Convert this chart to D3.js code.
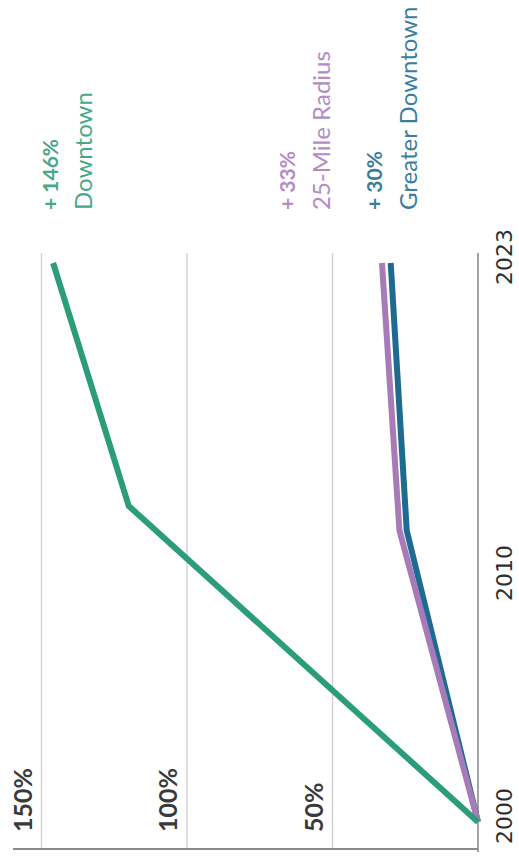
<!DOCTYPE html>
<html>
<head>
<meta charset="utf-8">
<script src="https://cdn.jsdelivr.net/npm/d3@7"></script>
<style>
  html, body { margin: 0; padding: 0; background: #fff; }
  svg { display: block; }
</style>
</head>
<body>
<svg id="chart" width="519" height="858"></svg>
<script>
// Growth since 2000, by area
const yearTicks = [2000, 2010, 2023];
const percentTicks = [50, 100, 150];

const downtownYears = [2000, 2013, 2023];
const downtownValues = [0, 120, 146];

const radiusYears = [2000, 2012, 2023];
const radiusValues = [0, 27, 33];

const greaterYears = [2000, 2012, 2023];
const greaterValues = [0, 24.5, 30];

const seriesNames = ["Downtown", "25-Mile Radius", "Greater Downtown"];
const seriesChange = ["+ 146%", "+ 33%", "+ 30%"];

const W = 519, H = 858;
const svg = d3.select("#chart");

// The chart is laid out in a landscape frame (u across, v down) and turned a quarter turn.
const g = svg.append("g").attr("transform", `translate(0,${H}) rotate(-90)`);

const x = d3.scaleLinear().domain([2000, 2023]).range([36, 595]);
const y = d3.scaleLinear().domain([0, 150]).range([478, 41.5]);

const gridTop = 605, gridBottom = 9;

// Gridlines
g.append("g").selectAll("line").data(percentTicks).join("line")
  .attr("x1", gridBottom).attr("x2", gridTop)
  .attr("y1", d => y(d)).attr("y2", d => y(d))
  .attr("stroke", "#cfcfcf").attr("stroke-width", 1.3);

// Zero baseline
g.append("line")
  .attr("x1", 6).attr("x2", gridTop)
  .attr("y1", y(0)).attr("y2", y(0))
  .attr("stroke", "#9a9a9a").attr("stroke-width", 1.8);

// Value axis line
g.append("line")
  .attr("x1", gridBottom).attr("x2", gridBottom)
  .attr("y1", 13).attr("y2", y(0))
  .attr("stroke", "#8a8a8a").attr("stroke-width", 1.8);

// Percent labels
g.append("g").selectAll("text").data(percentTicks).join("text")
  .attr("x", 26).attr("y", d => y(d) - 10)
  .attr("font-family", "Lato, 'Open Sans', sans-serif")
  .attr("font-weight", 700)
  .attr("font-size", 25)
  .attr("fill", "#3a3a3a")
  .text(d => d + "%");

// Year labels
g.append("g").selectAll("text").data(yearTicks).join("text")
  .attr("x", d => x(d) + 6).attr("y", y(0) + 34)
  .attr("text-anchor", "middle")
  .attr("font-family", "'DejaVu Sans', sans-serif")
  .attr("font-weight", 400)
  .attr("font-size", 22)
  .attr("fill", "#2f2f2f")
  .text(d => d);

// Lines
const series = [
  { years: downtownYears, values: downtownValues, color: "#2c9d7b" },
  { years: radiusYears, values: radiusValues, color: "#a67bb8" },
  { years: greaterYears, values: greaterValues, color: "#1d6b90" }
];
const line = d3.line().x(d => x(d[0])).y(d => y(d[1]));
// draw Downtown last so it sits on top at the shared origin
[series[2], series[1], series[0]].forEach(s => {
  g.append("path")
    .datum(d3.zip(s.years, s.values))
    .attr("d", line)
    .attr("fill", "none")
    .attr("stroke", s.color)
    .attr("stroke-width", 6)
    .attr("stroke-linejoin", "round");
});

// Labels above each series end
const labelColors = ["#46a889", "#b48cc3", "#3a7d9e"];
const labelLayout = [
  { change: 58, name: 92 },
  { change: 295, name: 330 },
  { change: 382, name: 417 }
];
const labelStart = 648;
seriesNames.forEach((name, i) => {
  g.append("text")
    .attr("x", labelStart).attr("y", labelLayout[i].change)
    .attr("font-family", "Lato, 'Open Sans', sans-serif")
    .attr("font-weight", 700).attr("font-size", 21)
    .attr("fill", labelColors[i])
    .text(seriesChange[i]);
  g.append("text")
    .attr("x", labelStart).attr("y", labelLayout[i].name)
    .attr("font-family", "Lato, 'Open Sans', sans-serif")
    .attr("font-weight", 400).attr("font-size", 24)
    .attr("fill", labelColors[i])
    .text(name);
});
</script>
</body>
</html>
